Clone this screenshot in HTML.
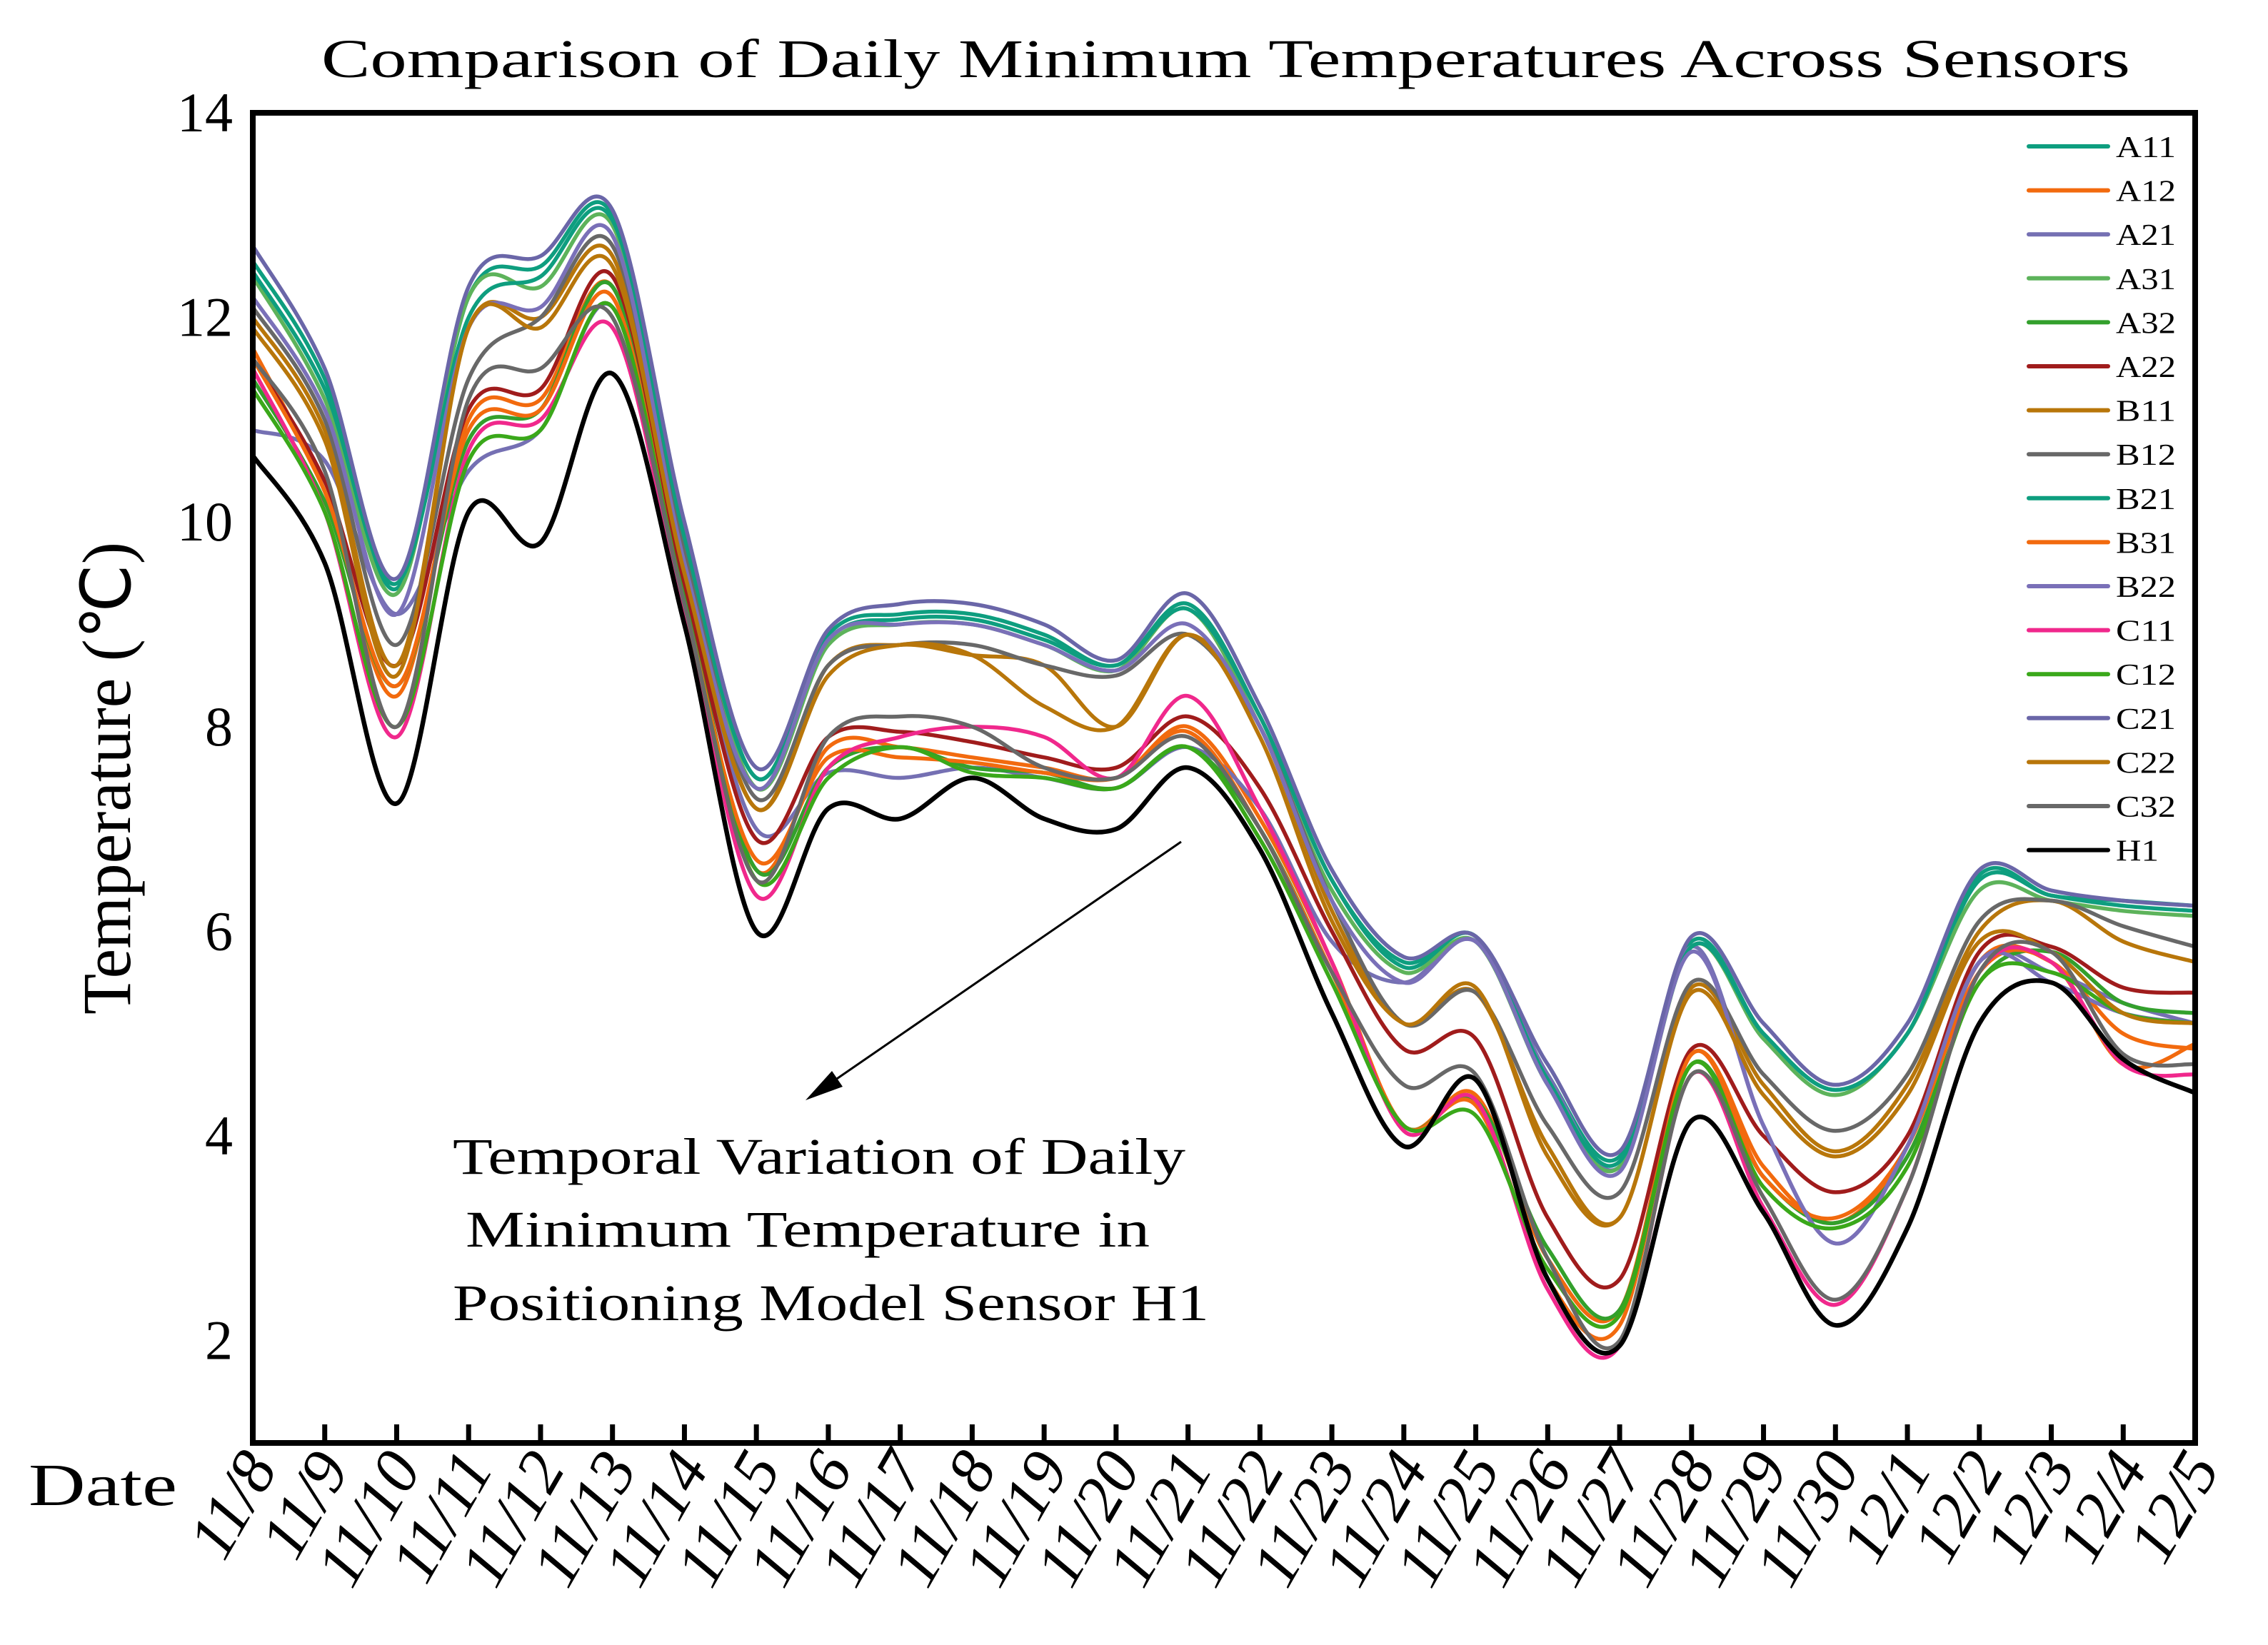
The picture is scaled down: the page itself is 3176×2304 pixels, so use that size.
<!DOCTYPE html>
<html><head><meta charset="utf-8"><style>
html,body{margin:0;padding:0;background:#fff}
svg{display:block}
text{font-family:"Liberation Serif",serif;fill:#000}
</style></head><body>
<svg id="chart" width="3176" height="2304" viewBox="0 0 3176 2304" xmlns="http://www.w3.org/2000/svg">
<text x="450" y="108" font-size="76" textLength="2533" lengthAdjust="spacingAndGlyphs">Comparison of Daily Minimum Temperatures Across Sensors</text>
<g id="plot"></g>
<text transform="translate(182,1090) rotate(-90)" font-size="96" text-anchor="middle" textLength="662" lengthAdjust="spacingAndGlyphs">Temperature (℃)</text>
<text x="40" y="2108" font-size="84" textLength="208" lengthAdjust="spacingAndGlyphs">Date</text>
<g font-size="72">
<text x="634" y="1644" textLength="1026" lengthAdjust="spacingAndGlyphs">Temporal Variation of Daily</text>
<text x="652" y="1746" textLength="958" lengthAdjust="spacingAndGlyphs">Minimum Temperature in</text>
<text x="634" y="1849" textLength="1059" lengthAdjust="spacingAndGlyphs">Positioning Model Sensor H1</text>
</g>
<line x1="1654" y1="1179" x2="1150" y2="1526" stroke="#000" stroke-width="3"/>
<polygon points="1128,1541 1165,1500 1180,1522" fill="#000"/>
</svg>
<script>
const dates=["11/8","11/9","11/10","11/11","11/12","11/13","11/14","11/15","11/16","11/17","11/18","11/19","11/20","11/21","11/22","11/23","11/24","11/25","11/26","11/27","11/28","11/29","11/30","12/1","12/2","12/3","12/4","12/5"];
const yTicks=[2,4,6,8,10,12,14];
const seriesNames=["A11","A12","A21","A31","A32","A22","B11","B12","B21","B31","B22","C11","C12","C21","C22","C32","H1"];
const seriesColors=["#0e9e7f","#f26a0e","#7570b3","#5db35b","#33a02c","#a01c1c","#b8760a","#686868","#0e9e7f","#f26a0e","#7a70b8","#f0288c","#3aa81a","#6a66a8","#b8760a","#686868","#000000"];
const A11=[12.55,11.4,9.35,12.2,12.5,13.0,9.9,7.5,8.9,9.1,9.1,8.9,8.6,9.2,8.1,6.5,5.7,5.95,4.6,3.8,5.9,5.0,4.45,5.0,6.5,6.35,6.25,6.2];
const A12=[11.7,10.3,8.3,11.0,11.2,12.3,9.3,6.6,7.8,7.8,7.7,7.6,7.5,8.0,7.1,5.7,4.1,4.4,2.8,2.3,4.8,3.7,3.15,3.9,5.7,5.7,5.0,4.85];
const A21=[10.9,10.6,9.1,10.5,10.9,12.1,9.4,7.0,7.55,7.5,7.6,7.5,7.4,7.8,7.2,5.9,5.5,5.9,4.6,3.7,5.85,4.1,2.95,3.9,5.7,5.6,5.3,5.1];
const A31=[12.4,11.2,9.3,12.2,12.3,12.9,9.8,7.4,8.8,9.0,9.0,8.8,8.55,9.15,8.0,6.4,5.6,5.9,4.5,3.7,5.85,4.95,4.4,5.0,6.4,6.3,6.2,6.15];
const A32=[11.4,10.2,8.4,10.8,11.1,12.3,9.3,6.6,7.6,7.8,7.6,7.55,7.4,7.8,7.0,5.6,4.1,4.35,2.9,2.3,4.7,3.6,3.15,3.8,5.5,5.8,5.3,5.2];
const A22=[11.6,10.4,8.6,11.1,11.3,12.4,9.4,6.9,7.9,7.95,7.85,7.7,7.6,8.1,7.4,6.0,4.85,4.95,3.2,2.6,4.85,4.0,3.45,4.0,5.8,5.85,5.45,5.4];
const B11=[12.0,10.9,8.6,11.9,12.0,12.6,9.6,7.2,8.6,8.8,8.7,8.6,8.0,8.9,8.0,6.2,5.1,5.4,3.9,3.2,5.45,4.5,3.85,4.5,6.0,6.3,5.9,5.7];
const B12=[12.1,11.0,8.8,11.4,12.0,12.7,9.7,7.3,8.6,8.8,8.8,8.6,8.5,8.9,8.0,6.3,5.1,5.4,4.1,3.45,5.5,4.6,4.05,4.6,6.1,6.3,6.05,5.85];
const B21=[12.45,11.3,9.4,12.0,12.4,12.95,9.85,7.5,8.85,9.05,9.05,8.85,8.6,9.15,8.1,6.5,5.65,5.95,4.55,3.75,5.85,5.0,4.45,5.0,6.55,6.35,6.3,6.25];
const B31=[11.6,10.3,8.4,10.9,11.1,12.2,9.2,6.7,7.7,7.7,7.65,7.55,7.5,7.95,7.0,5.6,4.1,4.3,2.6,2.15,4.8,3.6,3.2,3.9,5.6,5.7,4.7,4.9];
const B22=[12.2,11.1,9.1,11.9,12.1,12.8,9.6,7.4,8.85,9.0,9.0,8.8,8.55,9.0,8.0,6.3,5.5,5.9,4.5,3.65,5.8,4.1,2.95,3.9,5.7,5.5,5.2,5.1];
const C11=[11.5,10.1,7.9,10.7,11.0,11.9,9.1,6.35,7.6,7.9,8.0,7.9,7.5,8.3,7.2,5.7,4.05,4.35,2.5,1.95,4.6,3.3,2.35,3.5,5.6,5.7,4.7,4.6];
const C12=[11.3,10.1,8.0,10.6,10.9,12.1,9.2,6.5,7.5,7.8,7.55,7.5,7.4,7.8,6.9,5.5,4.1,4.2,2.7,2.25,4.7,3.5,3.1,3.7,5.5,5.6,5.2,5.1];
const C21=[12.7,11.5,9.45,12.3,12.6,13.05,10.0,7.6,8.95,9.2,9.2,9.0,8.65,9.3,8.2,6.6,5.75,5.95,4.7,3.85,5.95,5.1,4.5,5.1,6.6,6.4,6.3,6.25];
const C22=[11.9,10.8,8.5,11.9,11.9,12.5,9.5,7.2,8.5,8.8,8.7,8.2,8.0,8.9,7.9,6.1,5.1,5.45,3.8,3.2,5.4,4.4,3.8,4.4,5.9,5.8,5.2,5.1];
const C32=[11.6,10.5,8.0,11.2,11.5,12.0,9.2,6.5,7.9,8.1,8.0,7.6,7.5,7.9,7.0,5.6,4.5,4.6,2.8,2.0,4.6,3.4,2.4,3.5,5.6,5.8,4.8,4.7];
const H1=[10.65,9.6,7.25,10.1,9.8,11.45,9.0,6.0,7.2,7.1,7.5,7.1,7.0,7.6,6.8,5.2,3.9,4.55,2.6,1.95,4.15,3.25,2.15,3.1,5.1,5.5,4.75,4.42];
const seriesValues=[A11,A12,A21,A31,A32,A22,B11,B12,B21,B31,B22,C11,C12,C21,C22,C32,H1];

const NS="http://www.w3.org/2000/svg";
const L=354,R=3074,T=158,B=2021,YMIN=1,YMAX=14;
const xs=i=>L+i*(R-L)/(dates.length-1);
const ys=v=>B-(v-YMIN)/(YMAX-YMIN)*(B-T);
const plot=document.getElementById('plot');
function mk(tag,attrs){const e=document.createElementNS(NS,tag);for(const k in attrs)e.setAttribute(k,attrs[k]);return e;}

const clip=mk('clipPath',{id:'pc'});clip.appendChild(mk('rect',{x:L,y:T,width:R-L,height:B-T}));plot.appendChild(clip);

function pathFor(vals){
  const p=vals.map((v,i)=>[xs(i),ys(v)]);
  let d=`M${p[0][0]},${p[0][1]}`;
  for(let i=0;i<p.length-1;i++){
    const p0=p[i-1]||p[i],p1=p[i],p2=p[i+1],p3=p[i+2]||p[i+1];
    const c1=[p1[0]+(p2[0]-p0[0])/6,p1[1]+(p2[1]-p0[1])/6];
    const c2=[p2[0]-(p3[0]-p1[0])/6,p2[1]-(p3[1]-p1[1])/6];
    d+=` C${c1[0]},${c1[1]} ${c2[0]},${c2[1]} ${p2[0]},${p2[1]}`;
  }
  return d;
}
const lines=mk('g',{'clip-path':'url(#pc)'});
seriesValues.forEach((vals,si)=>{
  const path=mk('path',{d:pathFor(vals),fill:'none',stroke:seriesColors[si],'stroke-width':si===16?6.5:5.5,'stroke-linejoin':'round'});
  
  
  lines.appendChild(path);
});
plot.appendChild(lines);

const frame=mk('rect',{x:L,y:T,width:R-L,height:B-T,fill:'none',stroke:'#000','stroke-width':8});


plot.appendChild(frame);

dates.forEach((d,i)=>{
  const x=xs(i);
  const t=mk('line',{x1:x,y1:B,x2:x,y2:B-26,stroke:'#000','stroke-width':7});
  
  
  plot.appendChild(t);
  const lb=mk('text',{transform:`translate(${x+36},${2056}) rotate(-60)`,'font-size':90,'font-style':'italic','text-anchor':'end'});
  lb.textContent=d;
  
  
  plot.appendChild(lb);
});
yTicks.forEach(v=>{
  const lb=mk('text',{x:326,y:ys(v)+26,'font-size':78,'text-anchor':'end'});
  lb.textContent=v;
  
  
  plot.appendChild(lb);
});
const lg=mk('g',{});


seriesNames.forEach((n,i)=>{
  const y=205+i*61.6;
  const ln=mk('line',{x1:2841,y1:y,x2:2952,y2:y,stroke:seriesColors[i],'stroke-width':6,'stroke-linecap':'round'});
  
  
  lg.appendChild(ln);
  const tx=mk('text',{x:2963,y:y+15,'font-size':42,textLength:n.length===3?84:60,lengthAdjust:'spacingAndGlyphs'});
  tx.textContent=n;
  
  
  lg.appendChild(tx);
});
plot.appendChild(lg);
</script>
</body></html>
